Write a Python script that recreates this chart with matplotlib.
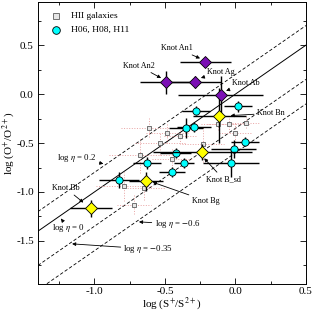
import numpy as np
import matplotlib
matplotlib.use("Agg")
import matplotlib.pyplot as plt
from matplotlib.ticker import MultipleLocator, FuncFormatter

plt.rcParams['font.family'] = ['Liberation Serif', 'DejaVu Serif']
plt.rcParams['mathtext.fontset'] = 'stix'

# HII galaxies (gray squares)
hii_x = [-0.613, -0.484, -0.390, -0.533, -0.680, -0.123, -0.049, 0.077, 0.000, -0.232, -0.451, -0.792, -0.652, -0.721]
hii_y = [-0.342, -0.401, -0.426, -0.503, -0.622, -0.306, -0.306, -0.291, -0.393, -0.515, -0.660, -0.942, -0.959, -1.128]
hii_xerr = [0.20, 0.15, 0.12, 0.18, 0.22, 0.12, 0.15, 0.10, 0.12, 0.15, 0.14, 0.20, 0.15, 0.12]
hii_yerr = [0.10, 0.10, 0.08, 0.12, 0.18, 0.06, 0.08, 0.06, 0.10, 0.18, 0.10, 0.15, 0.12, 0.10]

# H06, H08, H11 (cyan circles)
h_x = [0.018, -0.282, -0.353, -0.294, 0.068, -0.012, -0.033, -0.424, -0.363, -0.451, -0.625, -0.824]
h_y = [-0.126, -0.168, -0.344, -0.334, -0.485, -0.564, -0.704, -0.602, -0.707, -0.793, -0.701, -0.881]
h_xerr = [0.10, 0.10, 0.12, 0.12, 0.10, 0.16, 0.20, 0.11, 0.07, 0.09, 0.10, 0.14]
h_yerr = [0.055, 0.05, 0.10, 0.05, 0.05, 0.09, 0.14, 0.05, 0.05, 0.05, 0.06, 0.08]

# Knots A (purple diamonds)
ka_names = ['Knot An1', 'Knot An2', 'Knot Ag', 'Knot Ab']
ka_x = [-0.213, -0.490, -0.284, -0.105]
ka_y = [0.323, 0.120, 0.126, -0.007]
ka_xerr = [0.18, 0.185, 0.18, 0.30]
ka_yerr = [0.05, 0.12, 0.06, 0.19]

# Knots B (yellow diamonds)
kb_names = ['Knot Bn', 'Knot B_sd', 'Knot Bg', 'Knot Bb']
kb_x = [-0.114, -0.235, -0.635, -1.023]
kb_y = [-0.221, -0.595, -0.891, -1.166]
kb_xerr = [0.19, 0.35, 0.12, 0.15]
kb_yerr = [0.28, 0.08, 0.10, 0.085]

# log eta lines
eta_vals = [0.2, 0.0, -0.35, -0.6]
eta_styles = ['--', '-', '--', '--']

fig = plt.figure(figsize=(3.14, 3.14), dpi=100)
ax = fig.add_axes([0.121, 0.0955, 0.8535, 0.898])
ax.set_xlim(-1.4, 0.5)
ax.set_ylim(-1.94, 0.94)

xx = np.array([-1.4, 0.5])
for v, ls in zip(eta_vals, eta_styles):
    if ls == '--':
        ax.plot(xx, xx + v, ls='--', color='black', lw=0.6, dashes=(4, 2.5), zorder=1)
    else:
        ax.plot(xx, xx + v, ls='-', color='black', lw=0.7, zorder=1)

eb = ax.errorbar(hii_x, hii_y, xerr=hii_xerr, yerr=hii_yerr, fmt='none',
                 ecolor='#e8a3a3', elinewidth=0.7, zorder=2)
for lc in eb[2]:
    lc.set_linestyle(':')
ax.plot(hii_x, hii_y, ls='none', marker='s', ms=3.4, mfc='#e6e6e6', mec='#707070',
        mew=0.7, zorder=3)

ax.errorbar(h_x, h_y, xerr=h_xerr, yerr=h_yerr, fmt='none', ecolor='black',
            elinewidth=1.0, zorder=4)
ax.plot(h_x, h_y, ls='none', marker='o', ms=5.2, mfc='#00ffff', mec='black',
        mew=0.6, zorder=5)

ax.errorbar(ka_x, ka_y, xerr=ka_xerr, yerr=ka_yerr, fmt='none', ecolor='black',
            elinewidth=1.0, zorder=6)
ax.plot(ka_x, ka_y, ls='none', marker='D', ms=6.5, mfc='#7b0fb5', mec='black',
        mew=0.6, zorder=7)
ax.errorbar(kb_x, kb_y, xerr=kb_xerr, yerr=kb_yerr, fmt='none', ecolor='black',
            elinewidth=1.0, zorder=6)
ax.plot(kb_x, kb_y, ls='none', marker='D', ms=6.5, mfc='#ffff00', mec='black',
        mew=0.6, zorder=7)

# annotations
fs = 5.9
arrow = dict(arrowstyle='-|>', color='black', lw=0.6, mutation_scale=5, shrinkA=0, shrinkB=2)
ann = [
    (ka_names[0], ka_x[0] - 0.02, ka_y[0] + 0.03, -0.417, 0.469, 'center'),
    (ka_names[1], ka_x[1] - 0.02, ka_y[1] + 0.03, -0.687, 0.289, 'center'),
    (ka_names[2], ka_x[2] + 0.02, ka_y[2] + 0.03, -0.204, 0.228, 'left'),
    (ka_names[3], ka_x[3] + 0.02, ka_y[3] + 0.03, -0.028, 0.109, 'left'),
    (kb_names[0], kb_x[0] + 0.06, kb_y[0], 0.151, -0.197, 'left'),
    (kb_names[1], kb_x[1], kb_y[1] - 0.04, -0.211, -0.867, 'left'),
    (kb_names[2], kb_x[2] + 0.03, kb_y[2], -0.311, -1.089, 'left'),
    (kb_names[3], kb_x[3] - 0.04, kb_y[3] + 0.04, -1.203, -0.962, 'center'),
]
for t, px, py, tx, ty, ha in ann:
    ax.annotate(t, xy=(px, py), xytext=(tx, ty), ha=ha, va='center', fontsize=fs,
                arrowprops=arrow, zorder=8)

fs2 = 6.3
ax.annotate(r'log $\eta$ = 0.2', xy=(-0.917, -0.717), xytext=(-1.263, -0.656),
            ha='left', va='center', fontsize=fs2, arrowprops=arrow)
ax.annotate(r'log $\eta$ = 0', xy=(-1.25, -1.25), xytext=(-1.30, -1.37),
            ha='left', va='center', fontsize=fs2, arrowprops=arrow)
ax.annotate(r'log $\eta$ = $-$0.6', xy=(-0.704, -1.304), xytext=(-0.574, -1.327),
            ha='left', va='center', fontsize=fs2, arrowprops=arrow)
ax.annotate(r'log $\eta$ = $-$0.35', xy=(-1.178, -1.528), xytext=(-0.794, -1.582),
            ha='left', va='center', fontsize=fs2, arrowprops=arrow)

# legend
ax.plot([-1.27], [0.796], ls='none', marker='s', ms=3.8, mfc='#e6e6e6', mec='#707070', mew=0.7)
ax.text(-1.163, 0.796, 'HII galaxies', fontsize=6.8, va='center', ha='left')
ax.plot([-1.27], [0.656], ls='none', marker='o', ms=5.5, mfc='#00ffff', mec='black', mew=0.6)
ax.text(-1.163, 0.656, 'H06, H08, H11', fontsize=6.8, va='center', ha='left')

ax.xaxis.set_major_locator(MultipleLocator(0.5))
ax.xaxis.set_minor_locator(MultipleLocator(0.25))
ax.yaxis.set_major_locator(MultipleLocator(0.5))
ax.yaxis.set_minor_locator(MultipleLocator(0.25))
ax.xaxis.set_major_formatter(FuncFormatter(lambda v, p: f'{v:.1f}'))
ax.yaxis.set_major_formatter(FuncFormatter(lambda v, p: f'{v:.1f}'))
ax.tick_params(which='both', direction='in', top=True, right=True, labelsize=8, width=0.6)
ax.tick_params(which='major', length=4, pad=3)
ax.tick_params(axis='x', which='major', pad=2)
ax.tick_params(which='minor', length=2)
for s in ax.spines.values():
    s.set_linewidth(0.7)

ax.set_xlabel(r'log (S$^{+}$/S$^{2+}$)', fontsize=8)
ax.set_ylabel(r'log (O$^{+}$/O$^{2+}$)', fontsize=8)
ax.xaxis.set_label_coords((172 - 38) / 268, (284 - 304) / 282)
ax.xaxis.label.set_va('center')
ax.yaxis.set_label_coords((9 - 38) / 268, (284 - 143) / 282)
ax.yaxis.label.set_va('center')

fig.savefig('out.png', dpi=100)
